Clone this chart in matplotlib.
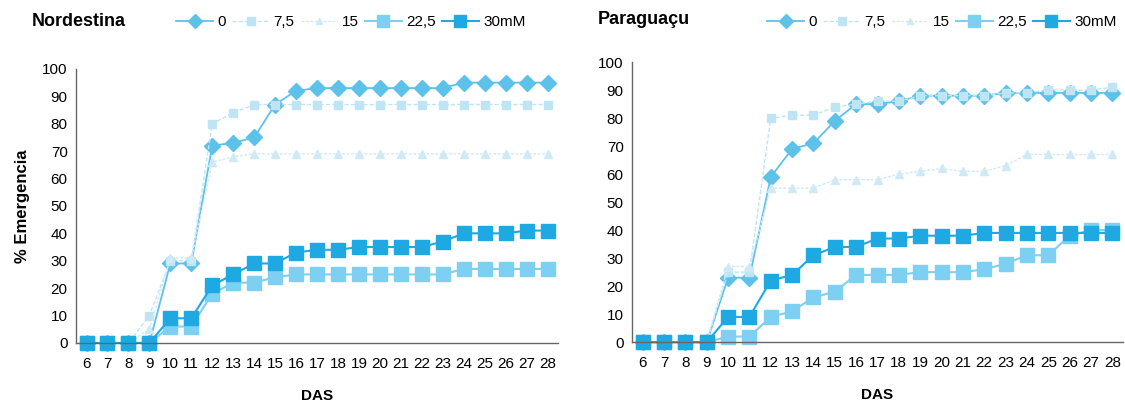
import numpy as np
import matplotlib.pyplot as plt
from matplotlib.lines import Line2D

plt.rcParams['font.family'] = ['Liberation Sans', 'DejaVu Sans']

# days after sowing
das = list(range(6, 29))
doses = ['0', '7,5', '15', '22,5', '30mM']

# % emergence, Nordestina
nord_0 = [0, 0, 0, 0, 29, 29, 72, 73, 75, 87, 92, 93, 93, 93, 93, 93, 93, 93, 95, 95, 95, 95, 95]
nord_75 = [0, 0, 0, 10, 30, 30, 80, 84, 87, 87, 87, 87, 87, 87, 87, 87, 87, 87, 87, 87, 87, 87, 87]
nord_15 = [0, 0, 0, 5, 31, 31, 66, 68, 69, 69, 69, 69, 69, 69, 69, 69, 69, 69, 69, 69, 69, 69, 69]
nord_225 = [0, 0, 0, 0, 6, 6, 18, 22, 22, 24, 25, 25, 25, 25, 25, 25, 25, 25, 27, 27, 27, 27, 27]
nord_30 = [0, 0, 0, 0, 9, 9, 21, 25, 29, 29, 33, 34, 34, 35, 35, 35, 35, 37, 40, 40, 40, 41, 41]

# % emergence, Paraguaçu
para_0 = [0, 0, 0, 0, 23, 23, 59, 69, 71, 79, 85, 85, 86, 88, 88, 88, 88, 89, 89, 89, 89, 89, 89]
para_75 = [0, 0, 0, 0, 25, 25, 80, 81, 81, 84, 85, 86, 86, 88, 88, 88, 88, 89, 89, 90, 90, 90, 91]
para_15 = [0, 0, 0, 0, 27, 27, 55, 55, 55, 58, 58, 58, 60, 61, 62, 61, 61, 63, 67, 67, 67, 67, 67]
para_225 = [0, 0, 0, 0, 2, 2, 9, 11, 16, 18, 24, 24, 24, 25, 25, 25, 26, 28, 31, 31, 38, 40, 40]
para_30 = [0, 0, 0, 0, 9, 9, 22, 24, 31, 34, 34, 37, 37, 38, 38, 38, 39, 39, 39, 39, 39, 39, 39]

c0 = '#5cc2ea'
c75 = '#bfe5f5'
c15 = '#cfeaf5'
c225 = '#7dd0f2'
c30 = '#1ea9e3'

styles = [
    dict(color=c0, marker='D', ms=8, ls='-', lw=1.3, mec=c0),
    dict(color=c75, marker='s', ms=6, ls=(0, (3, 1.5)), lw=1.0, mec=c75),
    dict(color=c15, marker='^', ms=5.5, ls=(0, (2, 1.2)), lw=1.0, mec=c15),
    dict(color=c225, marker='s', ms=10, ls='-', lw=1.5, mec=c225),
    dict(color=c30, marker='s', ms=10, ls='-', lw=1.5, mec=c30),
]

fig = plt.figure(figsize=(11.25, 4.03), dpi=100)
ax1 = fig.add_axes([0.0676, 0.149, 0.4284, 0.680])
ax2 = fig.add_axes([0.5618, 0.151, 0.4364, 0.695])


def draw(ax, series):
    for vals, st in zip(series, styles):
        ax.plot(das, vals, clip_on=False, **st)
    ax.set_xlim(5.5, 28.5)
    ax.set_ylim(0, 100)
    ax.set_xticks(das)
    ax.set_yticks(range(0, 101, 10))
    ax.tick_params(length=0, labelsize=11, pad=6)
    ax.tick_params(axis='x', pad=10)
    for s in ['top', 'right']:
        ax.spines[s].set_visible(False)
    for s in ['left', 'bottom']:
        ax.spines[s].set_color('#666666')
        ax.spines[s].set_linewidth(1.0)
    ax.set_xlabel('DAS', fontsize=11, fontweight='bold', labelpad=13)


draw(ax1, [nord_0, nord_75, nord_15, nord_225, nord_30])
draw(ax2, [para_0, para_75, para_15, para_225, para_30])
ax1.set_ylabel('% Emergencia', fontsize=12, fontweight='bold', labelpad=9)

fig.text(32 / 1125, 1 - 22 / 403, 'Nordestina', fontsize=13, fontweight='bold', va='center')
fig.text(598 / 1125, 1 - 20 / 403, 'Paraguaçu', fontsize=13, fontweight='bold', va='center')

handles = [Line2D([], [], **{**st, 'ms': st['ms'] * 0.85}) for st in styles]
for cx in [351 / 1125, 942 / 1125]:
    fig.legend(handles, doses, loc='center', bbox_to_anchor=(cx, 1 - 22 / 403),
               ncol=5, frameon=False, fontsize=11, handlelength=2.4,
               handletextpad=0.3, columnspacing=0.4, borderpad=0)

fig.savefig('out.png', dpi=100)
